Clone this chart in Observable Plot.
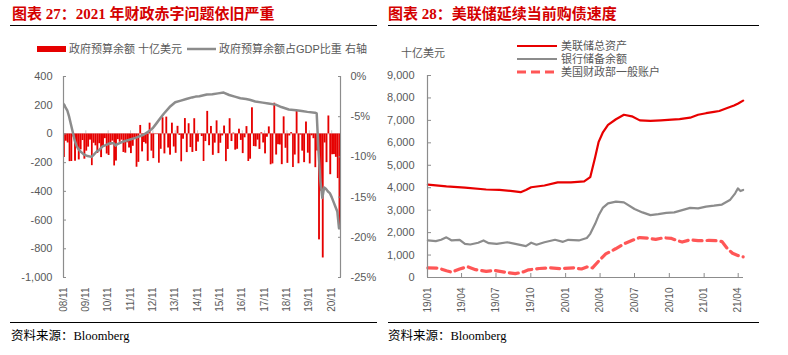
<!DOCTYPE html>
<html><head><meta charset="utf-8">
<script src="https://cdn.jsdelivr.net/npm/d3@7"></script>
<script src="https://cdn.jsdelivr.net/npm/@observablehq/plot@0.6"></script>
<style>
body{margin:0;background:#fff;}
#wrap{position:relative;width:788px;height:355px;overflow:hidden;font-family:"Liberation Sans","Noto Sans CJK SC",sans-serif;background:#fff;}
.title{position:absolute;top:5px;line-height:18px;font-family:"Liberation Serif","Noto Sans CJK SC",serif;font-weight:bold;font-size:15px;color:#d40000;white-space:nowrap;}
.hr{position:absolute;height:0;border-top:1.5px solid #000;}
.src{position:absolute;top:328px;line-height:16px;font-family:"Liberation Serif","Noto Sans CJK SC",serif;font-size:12.5px;color:#000;white-space:nowrap;}
.leg{position:absolute;font-size:11px;line-height:14px;color:#595959;white-space:nowrap;}
.panel{position:absolute;top:60px;}
</style></head>
<body>
<div id="wrap">
  <div class="title" style="left:12px">图表 27：2021 年财政赤字问题依旧严重</div>
  <div class="hr" style="left:10px;width:367px;top:25px"></div>
  <div class="title" style="left:388px">图表 28：美联储延续当前购债速度</div>
  <div class="hr" style="left:388px;width:371px;top:25px"></div>

  <div id="legL"></div>
  <div id="legR"></div>
  <div class="leg" style="left:401px;top:46px">十亿美元</div>

  <div id="left" class="panel" style="left:0px"></div>
  <div id="right" class="panel" style="left:394px"></div>

  <div class="hr" style="left:10px;width:367px;top:322px"></div>
  <div class="hr" style="left:388px;width:371px;top:322px"></div>
  <div class="src" style="left:11px">资料来源：Bloomberg</div>
  <div class="src" style="left:388px">资料来源：Bloomberg</div>
</div>
<script>
// ---------- Left chart data ----------
const budgetSeriesName = "政府预算余额 十亿美元";
const ratioSeriesName = "政府预算余额占GDP比重 右轴";
const budgetStart = "2008-11";
// monthly federal budget balance, $bn, 2008-11 .. 2021-03
const budgetBalance = [
  -164, -51,
  -63, -193, -192, -21, -190, -94, -181, -111, -46, -176, -120, -92,
  -43, -221, -65, -83, -136, -68, -165, -91, -33, -140, -150, -78,
  -50, -223, -189, -40, -58, -43, -129, -134, -62, -98, -137, -86,
  -27, -232, -198, 59, -125, -60, -70, -191, 75, -120, -172, 3,
  -3, -204, -107, 113, -139, 117, -98, -148, 75, -91, -135, 53,
  -10, -194, -37, 107, -130, 71, -95, -129, 106, -122, -57, 2,
  -18, -192, -53, 157, -82, 52, -149, -64, 91, -137, -65, -14,
  55, -193, -108, 106, -53, 6, -113, -107, 33, -45, -137, -27,
  51, -192, -176, 182, -88, -90, -43, -108, 8, -63, -139, -23,
  49, -215, -209, 214, -147, -75, -77, -214, 119, -100, -205, -14,
  9, -234, -147, 160, -208, -8, -120, -200, 83, -134, -209, -13,
  -33, -235, -119, -738, -399, -864, -63, -200, 125, -284, -145, -144,
  -163, -311, -660
];
// budget balance as % of GDP (right axis)
const ratioDates = ["2008-11","2008-12","2009-01","2009-02","2009-03","2009-04","2009-05","2009-06","2009-07","2009-08","2009-09","2009-10","2009-11","2009-12","2010-02","2010-03","2010-05","2010-06","2010-08","2010-10","2010-12","2011-02","2011-03","2011-04","2011-07","2011-10","2012-02","2012-06","2012-09","2012-11","2013-01","2013-03","2013-05","2013-08","2013-11","2014-02","2014-05","2014-08","2014-10","2014-12","2015-04","2015-07","2015-10","2016-01","2016-04","2016-07","2016-10","2017-01","2017-03","2017-06","2017-10","2018-01","2018-05","2018-08","2018-12","2019-04","2019-07","2019-10","2020-02","2020-03","2020-04","2020-05","2020-06","2020-07","2020-08","2020-09","2020-10","2020-11","2020-12","2021-01","2021-02","2021-03"];
const ratioValues = [-3.4,-3.8,-4.2,-5.0,-5.9,-6.9,-7.9,-8.6,-9.0,-9.3,-9.5,-9.7,-9.8,-9.9,-10.0,-9.8,-9.3,-9.2,-8.7,-8.5,-8.3,-8.3,-8.6,-8.4,-8.1,-7.9,-7.6,-7.25,-6.8,-6.4,-5.8,-5.2,-4.6,-3.8,-3.2,-3.0,-2.8,-2.6,-2.5,-2.45,-2.25,-2.2,-2.1,-2.0,-2.3,-2.5,-2.7,-2.8,-2.9,-3.1,-3.25,-3.35,-3.5,-3.8,-4.1,-4.2,-4.3,-4.4,-4.5,-4.6,-9.5,-13.0,-15.1,-13.8,-14.0,-14.3,-14.5,-15.0,-15.6,-16.2,-16.8,-18.9];
const leftYTicks = [400, 200, 0, -200, -400, -600, -800, -1000];
const rightPctTicks = [0, -5, -10, -15, -20, -25];
const leftXTickLabels = ["08/11","09/11","10/11","11/11","12/11","13/11","14/11","15/11","16/11","17/11","18/11","19/11","20/11"];

// ---------- Right chart data ----------
const rightSeriesNames = ["美联储总资产", "银行储备余额", "美国财政部一般账户"];
const fedDates = ["2019-01-02","2019-02-20","2019-04-10","2019-06-05","2019-07-10","2019-08-14","2019-09-04","2019-09-18","2019-10-02","2019-11-06","2019-12-11","2020-01-15","2020-02-19","2020-03-06","2020-03-19","2020-03-28","2020-04-08","2020-04-22","2020-05-13","2020-06-03","2020-06-24","2020-07-15","2020-08-12","2020-09-09","2020-10-07","2020-10-28","2020-11-25","2020-12-16","2021-01-06","2021-01-27","2021-02-10","2021-03-03","2021-03-21","2021-04-01","2021-04-14"];
const fedAssets = [4140,4060,4000,3920,3900,3850,3800,3900,4020,4100,4240,4240,4280,4470,5360,6030,6450,6800,7050,7250,7180,7000,6980,7000,7030,7060,7120,7250,7320,7380,7420,7550,7660,7750,7880];
const reserveDates = ["2019-01-02","2019-01-23","2019-02-06","2019-02-20","2019-03-06","2019-03-27","2019-04-10","2019-04-24","2019-05-15","2019-05-29","2019-06-12","2019-07-03","2019-07-31","2019-08-21","2019-09-18","2019-10-02","2019-10-16","2019-11-06","2019-12-04","2019-12-25","2020-01-08","2020-02-05","2020-02-26","2020-03-06","2020-03-19","2020-03-28","2020-04-08","2020-04-22","2020-05-13","2020-06-03","2020-07-01","2020-07-22","2020-08-12","2020-09-02","2020-09-23","2020-10-14","2020-11-04","2020-11-25","2020-12-16","2021-01-06","2021-01-27","2021-02-17","2021-03-10","2021-03-24","2021-03-31","2021-04-07","2021-04-14"];
const bankReserves = [1650,1620,1680,1790,1650,1680,1500,1470,1550,1650,1530,1500,1570,1500,1400,1550,1460,1570,1680,1590,1680,1650,1760,1945,2390,2760,3100,3300,3380,3350,3050,2900,2780,2820,2880,2900,3000,3100,3080,3160,3200,3250,3450,3750,3970,3850,3900];
const tgaDates = ["2019-01-02","2019-01-30","2019-02-20","2019-03-06","2019-03-27","2019-04-17","2019-05-08","2019-06-05","2019-06-26","2019-07-24","2019-08-21","2019-09-11","2019-09-25","2019-10-23","2019-11-20","2019-12-18","2020-01-22","2020-02-12","2020-02-26","2020-03-12","2020-03-30","2020-04-16","2020-05-12","2020-06-07","2020-06-24","2020-07-15","2020-08-05","2020-08-26","2020-09-16","2020-10-07","2020-10-21","2020-11-04","2020-11-25","2020-12-16","2021-01-13","2021-02-03","2021-02-17","2021-03-03","2021-03-17","2021-03-31","2021-04-14"];
const tgaBalance = [430,420,300,240,380,480,350,270,320,240,170,250,340,400,430,390,430,380,470,430,760,1050,1280,1530,1650,1780,1750,1700,1770,1740,1650,1580,1680,1640,1650,1640,1600,1300,1080,980,920];
const rightYTicks = [0,1000,2000,3000,4000,5000,6000,7000,8000,9000];
const rightXTickLabels = ["19/01","19/04","19/07","19/10","20/01","20/04","20/07","20/10","21/01","21/04"];

// ---------- helpers ----------
const pDay = d3.utcParse("%Y-%m-%d");
const pMonth = d3.utcParse("%Y-%m");
const pTick = d3.utcParse("%y/%m");
const fTick = d3.utcFormat("%y/%m");
const locale = d3.formatLocale({decimal: ".", thousands: ",", grouping: [3], currency: ["$", ""], minus: "-"});
const fComma = locale.format(",");
const axisGray = "#8c8c8c";
const textGray = "#595959";
const fontFam = "Liberation Sans, Noto Sans CJK SC, sans-serif";

// ---------- legends ----------
function lineSample(color, width, dash) {
  return `<svg width="40" height="8" style="position:absolute;left:0;top:3px"><line x1="0" x2="40" y1="4" y2="4" stroke="${color}" stroke-width="${width}" ${dash ? `stroke-dasharray="${dash}"` : ""}/></svg>`;
}
document.getElementById("legL").innerHTML =
  `<div style="position:absolute;left:37px;top:46px;width:29px;height:6px;background:#e60000"></div>
   <div class="leg" style="left:69px;top:42px">${budgetSeriesName}</div>
   <svg style="position:absolute;left:187px;top:45px" width="29" height="8"><line x1="0" x2="29" y1="4" y2="4" stroke="#8c8c8c" stroke-width="2.5"/></svg>
   <div class="leg" style="left:219px;top:42px">${ratioSeriesName}</div>`;
const legColors = [["#e80000", 2.2, null], ["#8c8c8c", 2.2, null], ["#ff5656", 3.2, "9,5"]];
document.getElementById("legR").innerHTML = rightSeriesNames.map((n, i) =>
  `<div class="leg" style="left:517px;top:${39 + i * 12.8}px;padding-left:44px">${lineSample(...legColors[i])}${n}</div>`).join("");

// ---------- left chart ----------
const start = pMonth(budgetStart);
const bars = budgetBalance.map((v, i) => ({date: d3.utcMonth.offset(start, i), value: v}));
const pctToLeft = p => 400 + p * 56;
const ratio = ratioDates.map((d, i) => ({date: pMonth(d), value: pctToLeft(ratioValues[i])}));
const leftDomain = [pDay("2008-11-01"), pDay("2021-03-25")];
const leftXTicks = leftXTickLabels.map(pTick);

const left = Plot.plot({
  width: 394, height: 260,
  marginLeft: 63, marginRight: 54, marginTop: 16, marginBottom: 43,
  x: {type: "utc", domain: leftDomain, label: null},
  y: {domain: [-1000, 400], label: null},
  style: {fontFamily: fontFam, fontSize: "11px", color: textGray, background: "transparent", overflow: "visible"},
  marks: [
    Plot.ruleY([0], {stroke: "#d0d0d0", strokeWidth: 1}),
    Plot.ruleX(leftXTicks, {y1: 0, y2: 22, stroke: "#c8c8c8"}),
    Plot.rectY(bars, {x1: "date", x2: d => d3.utcMonth.offset(d.date, 1), y: "value", fill: "#e60000", clip: true}),
    Plot.line(ratio, {x: "date", y: "value", stroke: "#8c8c8c", strokeWidth: 2.5, clip: true}),
    Plot.ruleX([leftDomain[0]], {y1: -1000, y2: 400, stroke: axisGray, strokeWidth: 1.2}),
    Plot.ruleX([leftDomain[1]], {y1: -1000, y2: 400, stroke: axisGray, strokeWidth: 1.2}),
    Plot.axisY(leftYTicks, {anchor: "left", label: null, tickSize: -3, tickFormat: () => "", stroke: axisGray}),
    Plot.axisY(leftYTicks, {anchor: "left", label: null, tickSize: 0, tickPadding: 11, tickFormat: fComma, fill: textGray, fontSize: 11}),
    Plot.axisY(rightPctTicks.map(pctToLeft), {anchor: "right", label: null, tickSize: -3, tickFormat: () => "", stroke: axisGray}),
    Plot.axisY(rightPctTicks.map(pctToLeft), {anchor: "right", label: null, tickSize: 0, tickPadding: 10, tickFormat: v => Math.round((v - 400) / 56) + "%", fill: textGray, fontSize: 11}),
    Plot.axisX(leftXTicks, {anchor: "bottom", label: null, tickSize: 0, tickPadding: 10, tickRotate: -90, tickFormat: fTick, fill: textGray, fontSize: 10})
  ]
});
document.getElementById("left").appendChild(left);

// ---------- right chart ----------
const toSeries = (dates, vals) => dates.map((d, i) => ({date: pDay(d), value: vals[i]}));
const fed = toSeries(fedDates, fedAssets);
const res = toSeries(reserveDates, bankReserves);
const tga = toSeries(tgaDates, tgaBalance);
const rightDomain = [pDay("2019-01-01"), pDay("2021-04-15")];
const rightXTicks = rightXTickLabels.map(pTick);

const right = Plot.plot({
  width: 394, height: 260,
  marginLeft: 33, marginRight: 45, marginTop: 15, marginBottom: 43,
  x: {type: "utc", domain: rightDomain, label: null},
  y: {domain: [0, 9000], label: null},
  style: {fontFamily: fontFam, fontSize: "11px", color: textGray, background: "transparent", overflow: "visible"},
  marks: [
    Plot.line(res, {x: "date", y: "value", stroke: "#8c8c8c", strokeWidth: 2.2}),
    Plot.line(fed, {x: "date", y: "value", stroke: "#e80000", strokeWidth: 2.2}),
    Plot.line(tga, {x: "date", y: "value", stroke: "#ff5656", strokeWidth: 3.2, strokeDasharray: "9,5"}),
    Plot.ruleX([rightDomain[0]], {y1: 0, y2: 9000, stroke: axisGray, strokeWidth: 1.2}),
    Plot.ruleY([0], {stroke: axisGray, strokeWidth: 1.2}),
    Plot.axisY(rightYTicks, {anchor: "left", label: null, tickSize: -4, tickFormat: () => "", stroke: axisGray}),
    Plot.axisY(rightYTicks, {anchor: "left", label: null, tickSize: 0, tickPadding: 13, tickFormat: fComma, fill: textGray, fontSize: 11}),
    Plot.axisX(rightXTicks, {anchor: "bottom", label: null, tickSize: -4, tickFormat: () => "", stroke: axisGray}),
    Plot.axisX(rightXTicks, {anchor: "bottom", label: null, tickSize: 0, tickPadding: 10, tickRotate: -90, tickFormat: fTick, fill: textGray, fontSize: 10})
  ]
});
document.getElementById("right").appendChild(right);
</script>
</body></html>
